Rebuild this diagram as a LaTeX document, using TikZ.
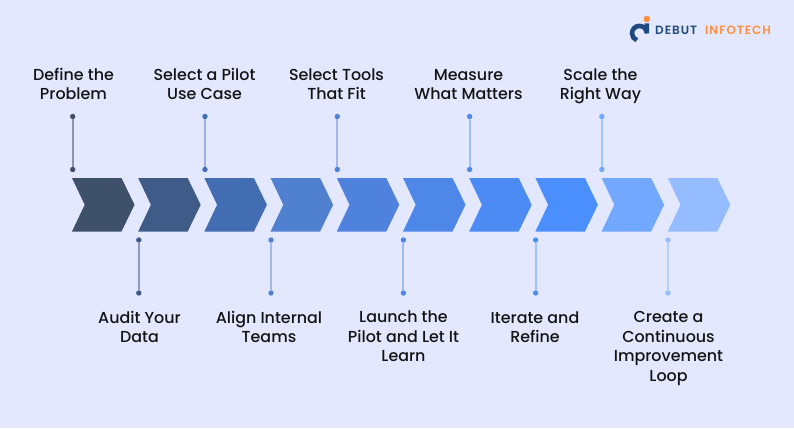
\documentclass[tikz,border=0pt]{standalone}
\usepackage{fontspec}
\setmainfont{Poppins}
\newfontfamily\labelfont{Poppins Medium}
\newfontfamily\logofont[LetterSpace=8]{Poppins SemiBold}
\usetikzlibrary{calc}
\definecolor{bgc}{HTML}{E3E8FF}
\definecolor{logoblue}{HTML}{1F4A80}
\definecolor{logoorange}{HTML}{FF9040}
\tikzset{x=1pt,y=-1pt,
 lbl/.style={font=\labelfont\fontsize{15.9}{19.4}\selectfont,text=black!92,align=center,inner sep=0pt},
 dotn/.style={circle,inner sep=0pt,minimum size=5.4pt},
 logotext/.style={inner sep=0pt,anchor=west,font=\logofont\fontsize{12}{14}\selectfont},
 stem/.style={line width=2pt}}
\newcommand{\chev}[3]{% name index colour
 \path[fill=#3] ({#2},178) -- ({#2+49.5},178) -- ({#2+62.5},204.8) -- ({#2+49.5},231.5) -- ({#2},231.5) -- ({#2+12.7},204.8) -- cycle;
 \coordinate (#1) at ({#2+31},204.8);
}
\newcommand{\stemup}[4]{% name x colour linecolor
 \node[dotn,fill=#3] (#1a) at (#2,116.5) {};
 \node[dotn,fill=#3] (#1b) at (#2,169.5) {};
 \draw[stem,#4] (#1a) -- (#1b);
}
\newcommand{\stemdown}[4]{%
 \node[dotn,fill=#3] (#1a) at (#2,240) {};
 \node[dotn,fill=#3] (#1b) at (#2,293) {};
 \draw[stem,#4] (#1a) -- (#1b);
}
\begin{document}
\begin{tikzpicture}
\path[fill=bgc,use as bounding box] (0,0) rectangle (794,428);
\definecolor{c1}{HTML}{3F506B}\definecolor{c2}{HTML}{3F5C88}\definecolor{c3}{HTML}{426DB3}
\definecolor{c4}{HTML}{5080D0}\definecolor{c5}{HTML}{4F82DC}\definecolor{c6}{HTML}{4D87E8}
\definecolor{c7}{HTML}{4C8BF4}\definecolor{c8}{HTML}{4B8FFF}\definecolor{c9}{HTML}{72A8FF}
\definecolor{c10}{HTML}{95BCFF}
\chev{s1}{72}{c1}\chev{s2}{138.2}{c2}\chev{s3}{204.4}{c3}\chev{s4}{270.6}{c4}\chev{s5}{336.8}{c5}
\chev{s6}{403}{c6}\chev{s7}{469.2}{c7}\chev{s8}{535.4}{c8}\chev{s9}{601.6}{c9}\chev{s10}{667.8}{c10}
\stemup{u1}{72.7}{c1}{c1!55!bgc}
\stemup{u3}{205}{c3}{c3!45!bgc}
\stemup{u5}{337.3}{c5}{c5!45!bgc}
\stemup{u7}{469.6}{c7}{c7!45!bgc}
\stemup{u9}{601.8}{c9}{c9!55!bgc}
\stemdown{d2}{138.8}{c2}{c2!55!bgc}
\stemdown{d4}{271}{c4}{c4!45!bgc}
\stemdown{d6}{403.4}{c6}{c6!45!bgc}
\stemdown{d8}{535.6}{c8}{c8!45!bgc}
\stemdown{d10}{668}{c10}{c10!60!bgc}
\node[lbl] (t1) at (73.5,84) {Define the\\Problem};
\node[lbl] (t3) at (204.5,84) {Select a Pilot\\Use Case};
\node[lbl] (t5) at (336.5,84) {Select Tools\\That Fit};
\node[lbl] (t7) at (468.5,84.6) {Measure\\What Matters};
\node[lbl] (t9) at (600.5,86) {Scale the\\Right Way};
\node[lbl] (t2) at (139.5,327) {Audit Your\\Data};
\node[lbl] (t4) at (269,327) {Align Internal\\Teams};
\node[lbl] (t6) at (403.5,336.5) {Launch the\\Pilot and Let It\\Learn};
\node[lbl] (t8) at (535,327) {Iterate and\\Refine};
\node[lbl] (t10) at (668.5,348.5) {Create a\\Continuous\\Improvement\\Loop};
% logo
\draw[logoblue,line width=4.6pt] (646.8,23.5) -- (646.8,33.3) arc[start angle=0,end angle=-250,radius=7.4];
\path[fill=logoorange,rounded corners=1.5pt] (643.8,16) rectangle (649.5,22);
\node[logotext,text=logoblue] (lg1) at (655,30) {DEBUT};
\node[logotext,text=logoorange] (lg2) at (705,30) {INFOTECH};
\end{tikzpicture}
\end{document}
